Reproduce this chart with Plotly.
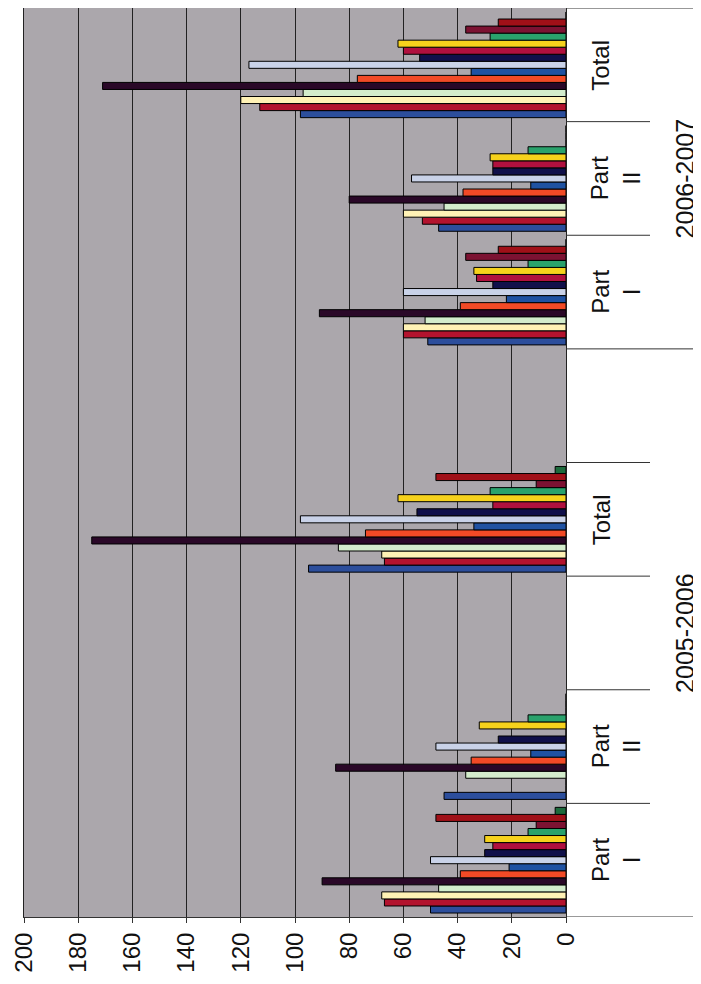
import plotly.graph_objects as go

# slots on the category axis (bottom to top); two are empty spacers
slots = ["2005-2006|Part I", "2005-2006|Part II", "2005-2006|gap1", "2005-2006|Total",
         "2005-2006|gap2", "2006-2007|Part I", "2006-2007|Part II", "2006-2007|Total"]
data_slots = ["2005-2006|Part I", "2005-2006|Part II", "2005-2006|Total",
              "2006-2007|Part I", "2006-2007|Part II", "2006-2007|Total"]
slot_labels = ["Part<br>I", "Part<br>II", "", "Total", "", "Part<br>I", "Part<br>II", "Total"]
group_labels = ["2005-2006", "2006-2007"]
group_centers = [2, 6]

# 15 series values per data slot (order: P1 05, P2 05, Tot 05, P1 06, P2 06, Tot 06)
s01 = [50, 45, 95, 51, 47, 98]
s02 = [67, 0, 67, 60, 53, 113]
s03 = [68, 0, 68, 60, 60, 120]
s04 = [47, 37, 84, 52, 45, 97]
s05 = [90, 85, 175, 91, 80, 171]
s06 = [39, 35, 74, 39, 38, 77]
s07 = [21, 13, 34, 22, 13, 35]
s08 = [50, 48, 98, 60, 57, 117]
s09 = [30, 25, 55, 27, 27, 54]
s10 = [27, 0, 27, 33, 27, 60]
s11 = [30, 32, 62, 34, 28, 62]
s12 = [14, 14, 28, 14, 14, 28]
s13 = [11, 0, 11, 37, 0, 37]
s14 = [48, 0, 48, 25, 0, 25]
s15 = [4, 0, 4, 0, 0, 0]
series = [s01, s02, s03, s04, s05, s06, s07, s08, s09, s10, s11, s12, s13, s14, s15]
colors = ["#2C4E9C", "#B3132E", "#FFF2B5", "#D3ECCC", "#2A0828", "#F24A26", "#1F52A2",
          "#C9D2E8", "#10104A", "#B0103E", "#F6D21C", "#2AA26C", "#7C1232", "#A01018", "#1D6A3C"]

tick_vals = [0, 20, 40, 60, 80, 100, 120, 140, 160, 180, 200]

fig = go.Figure()
for i, vals in enumerate(series):
    fig.add_trace(go.Bar(
        y=data_slots, x=vals, orientation="h", name=f"S{i+1}",
        marker=dict(color=colors[i], line=dict(color="#000000", width=1)),
    ))

font_family = "Liberation Sans, Arial, sans-serif"

shapes = []
# separators on the right of the plot
for pos in [0.5, 1.5, 2.5, 3.5, 5.5, 6.5]:
    shapes.append(dict(type="line", xref="paper", yref="y", x0=1, x1=1.155,
                       y0=pos, y1=pos, line=dict(color="#333333", width=1)))
for pos in [-0.5, 4.5, 7.5]:
    shapes.append(dict(type="line", xref="paper", yref="y", x0=1, x1=1.27,
                       y0=pos, y1=pos, line=dict(color="#333333", width=1)))

annotations = []
for i, lab in enumerate(slot_labels):
    if lab:
        xpos = 1.149 if "<br>" in lab else 1.093
        annotations.append(dict(xref="paper", yref="y", x=xpos, y=i, text=lab,
                                showarrow=False, textangle=-90,
                                font=dict(size=24, color="#111111", family=font_family)))
for lab, c in zip(group_labels, group_centers):
    annotations.append(dict(xref="paper", yref="y", x=1.249, y=c, text=lab,
                            showarrow=False, textangle=-90,
                            font=dict(size=25, color="#111111", family=font_family)))

fig.update_layout(
    width=701, height=984,
    margin=dict(l=16, r=143, t=0, b=75),
    paper_bgcolor="#FFFFFF", plot_bgcolor="#ABA7AC",
    barmode="group", bargap=0.07, bargroupgap=0,
    showlegend=False,
    shapes=shapes, annotations=annotations,
    font=dict(family=font_family, color="#111111"),
    xaxis=dict(range=[200, 0], tickvals=tick_vals, tickangle=-90,
               ticks="outside", ticklen=5, tickcolor="#333333",
               tickfont=dict(size=24, color="#111111"), ticklabelstandoff=0,
               showgrid=True, gridcolor="#222222", gridwidth=1,
               showline=True, linecolor="#333333", mirror=True, zeroline=False),
    yaxis=dict(type="category", categoryorder="array", categoryarray=slots,
               range=[-0.5, 7.5], showticklabels=False, ticks="",
               showgrid=False, showline=True, linecolor="#222222", mirror=True,
               side="right"),
)

fig.write_html("out.html")
